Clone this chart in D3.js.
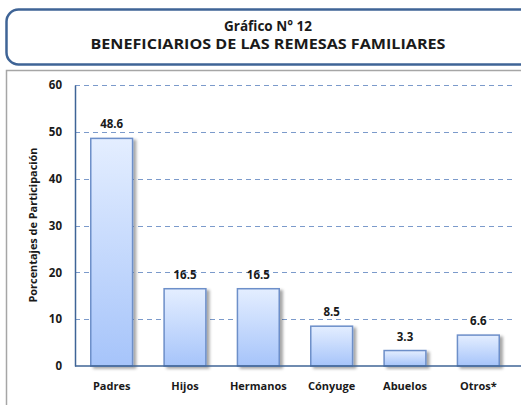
<!DOCTYPE html>
<html><head><meta charset="utf-8">
<script src="https://cdn.jsdelivr.net/npm/d3@7"></script>
<style>body{margin:0;background:#fff}svg{display:block}text{font-family:"Open Sans",Lato,sans-serif;font-weight:bold;fill:#1a1a1a}</style>
</head><body><svg id="c" width="521" height="405"></svg>
<script>
const categories = ["Padres","Hijos","Hermanos","Cónyuge","Abuelos","Otros*"];
const values = [48.6,16.5,16.5,8.5,3.3,6.6];
const yTicks = [0,10,20,30,40,50,60];
const titleLines = ["Gráfico N° 12","BENEFICIARIOS DE LAS REMESAS FAMILIARES"];
const yTitle = "Porcentajes de Participación";

const svg = d3.select("#c");
const defs = svg.append("defs");
const g = defs.append("linearGradient").attr("id","bg").attr("x1",0).attr("y1",0).attr("x2",0).attr("y2",1);
g.append("stop").attr("offset","0%").attr("stop-color","#e4eeff");
g.append("stop").attr("offset","100%").attr("stop-color","#a6c4fa");
const f = defs.append("filter").attr("id","sh").attr("x","-20%").attr("y","-20%").attr("width","150%").attr("height","150%");
f.append("feGaussianBlur").attr("in","SourceAlpha").attr("stdDeviation",1.5).attr("result","b");
f.append("feOffset").attr("in","b").attr("dx",3).attr("dy",2).attr("result","o");
f.append("feComponentTransfer").attr("in","o").attr("result","o2").append("feFuncA").attr("type","linear").attr("slope",0.35);
const m = f.append("feMerge"); m.append("feMergeNode").attr("in","o2"); m.append("feMergeNode").attr("in","SourceGraphic");

// title box
svg.append("rect").attr("x",6.5).attr("y",9.5).attr("width",540).attr("height",55).attr("rx",12)
  .attr("fill","#fff").attr("stroke","#3f6496").attr("stroke-width",2.5);
const tt = svg.selectAll("text.t").data(titleLines).join("text").attr("class","t")
  .attr("x",268).attr("y",(d,i)=>31+i*18).attr("text-anchor","middle").style("font-size","13.5px").text(d=>d);
tt.filter((d,i)=>i===1).attr("textLength",355).attr("lengthAdjust","spacingAndGlyphs");

// chart border
svg.append("path").attr("d","M6.5,405 V70.5 H521").attr("fill","none").attr("stroke","#a6a6a6").attr("stroke-width",1.5);

const x0=75, x1=515, yTop=85, yBot=366;
const x = d3.scaleBand().domain(categories).range([x0,x1]).paddingInner(0.43).paddingOuter(0.215);
const y = d3.scaleLinear().domain([0,60]).range([yBot,yTop]);

// gridlines
svg.selectAll("line.grid").data(yTicks.filter(d=>d>0)).join("line").attr("class","grid")
  .attr("x1",x0).attr("x2",x1).attr("y1",d=>Math.round(y(d))+0.5).attr("y2",d=>Math.round(y(d))+0.5)
  .attr("stroke","#7b9acb").attr("stroke-dasharray","5,4").attr("stroke-width",1.2);

// bars
svg.selectAll("rect.bar").data(values).join("rect").attr("class","bar")
  .attr("x",(d,i)=>x(categories[i])).attr("y",d=>y(d)).attr("width",x.bandwidth()).attr("height",d=>yBot-y(d))
  .attr("fill","url(#bg)").attr("stroke","#6d8fc9").attr("stroke-width",1.5).attr("filter","url(#sh)");

// axes
const ya = d3.axisLeft(y).tickValues(yTicks).tickSize(0).tickPadding(13);
const yg = svg.append("g").attr("transform",`translate(${x0},0)`).call(ya);
yg.select(".domain").attr("stroke","#3f6496").attr("stroke-width",1.5);
yg.selectAll("text").style("font-size","11.5px").style("font-family","'Open Sans',sans-serif").attr("fill","#1a1a1a");
const xa = d3.axisBottom(x).tickSize(0).tickPadding(16);
const xg = svg.append("g").attr("transform",`translate(0,${yBot})`).call(xa);
xg.select(".domain").attr("d",`M${x0},0H521`).attr("stroke","#3f6496").attr("stroke-width",1.5);
xg.selectAll("text").style("font-size","11px").style("font-family","'Open Sans',sans-serif").attr("fill","#1a1a1a");

// value labels
svg.selectAll("text.v").data(values).join("text").attr("class","v")
  .attr("x",(d,i)=>x(categories[i])+x.bandwidth()/2).attr("y",d=>y(d)-10)
  .attr("text-anchor","middle").style("font-size","11.5px").text(d=>d.toFixed(1));

// y title
svg.append("text").attr("transform","translate(37,225) rotate(-90)").attr("text-anchor","middle")
  .style("font-size","10.5px").attr("textLength",155).attr("lengthAdjust","spacingAndGlyphs").text(yTitle);
</script></body></html>
